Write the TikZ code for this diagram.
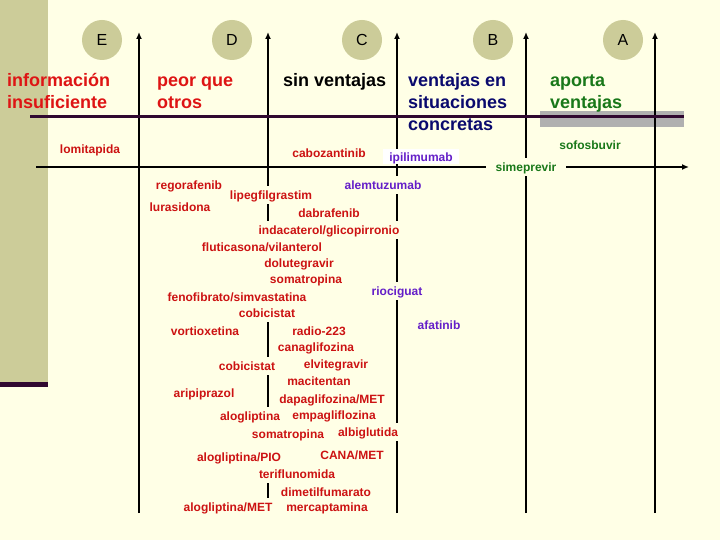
\documentclass[tikz,border=0pt]{standalone}
\usepackage{fontspec}
\setmainfont{Liberation Sans}
\usetikzlibrary{arrows.meta}
\definecolor{bgc}{RGB}{255,255,230}
\definecolor{khaki}{RGB}{204,204,153}
\definecolor{darkplum}{RGB}{48,8,48}
\definecolor{hlgray}{RGB}{176,176,176}
\definecolor{drugred}{RGB}{204,18,18}
\definecolor{headred}{RGB}{222,20,20}
\definecolor{navyc}{RGB}{10,10,110}
\definecolor{greenc}{RGB}{25,120,25}
\definecolor{purplec}{RGB}{100,30,200}
\tikzset{
  axisline/.style={line width=2.5pt, draw=black, -{Latex[length=7pt,width=6pt]}},
  letterdot/.style={circle, fill=khaki, minimum size=40pt, inner sep=0pt, font=\fontsize{16}{19}\selectfont, text=black},
  heading/.style={anchor=base west, align=left, inner sep=0pt, font=\bfseries\fontsize{18}{22}\selectfont},
  drug/.style={fill=bgc, inner xsep=5pt, inner ysep=3pt, text height=10.5pt, text depth=1.5pt, font=\bfseries\fontsize{12}{14}\selectfont, text=drugred},
  drugp/.style={drug, text=purplec},
  drugg/.style={drug, text=greenc},
}
\begin{document}
\begin{tikzpicture}[x=1pt,y=-1pt]
\useasboundingbox (0,0) rectangle (720,540);
\fill[bgc] (0,0) rectangle (720,540);
% left strip
\fill[khaki] (0,0) rectangle (48,382);
\fill[darkplum] (0,382) rectangle (48,387);
% grey highlight
\fill[hlgray] (540,111) rectangle (684,127);
% axes
\foreach \n/\x in {E/139,D/268,C/397,B/526,A/655}{
  \coordinate (bot\n) at (\x,513);
  \coordinate (top\n) at (\x,32);
}
\draw[axisline] (botE) -- (topE);
\draw[axisline] (botD) -- (topD);
\draw[axisline] (botC) -- (topC);
\draw[axisline] (botB) -- (topB);
\draw[axisline] (botA) -- (topA);
\coordinate (h1a) at (30,117);
\coordinate (h1b) at (684,117);
\draw[line width=3pt, darkplum] (h1a) -- (h1b);
\coordinate (h2a) at (36,167);
\coordinate (h2b) at (689,167);
\draw[axisline] (h2a) -- (h2b);
% letters
\node[letterdot] (cE) at (102,40) {E};
\node[letterdot] (cD) at (232,40) {D};
\node[letterdot] (cC) at (362,40) {C};
\node[letterdot] (cB) at (493,40) {B};
\node[letterdot] (cA) at (623,40) {A};
% headings (base = baseline of last line)
\node[heading, text=headred] (hE) at (7,109) {información\\insuficiente};
\node[heading, text=headred] (hD) at (157,109) {peor que\\otros};
\node[heading, text=black] (hC) at (283,87) {sin ventajas};
\node[heading, text=navyc] (hB) at (408,131) {ventajas en\\situaciones\\concretas};
\node[heading, text=greenc] (hA) at (550,109) {aporta\\ventajas};
% drugs
\node[drug] (d1) at (90,149) {lomitapida};
\node[drug] (d2) at (329,153) {cabozantinib};
\node[drugp, fill=white, inner xsep=6pt, inner ysep=1.5pt] (d3) at (421,157) {ipilimumab};
\node[drugg] (d4) at (590,145) {sofosbuvir};
\node[drugg, inner xsep=10pt] (d5) at (526,167) {simeprevir};
\node[drug] (d6) at (189,185) {regorafenib};
\node[drugp] (d7) at (383,185) {alemtuzumab};
\node[drug] (d8) at (271,195) {lipegfilgrastim};
\node[drug] (d9) at (180,207) {lurasidona};
\node[drug] (d10) at (329,213) {dabrafenib};
\node[drug] (d11) at (329,230) {indacaterol/glicopirronio};
\node[drug] (d12) at (262,247) {fluticasona/vilanterol};
\node[drug] (d13) at (299,263) {dolutegravir};
\node[drug] (d14) at (306,279) {somatropina};
\node[drugp] (d15) at (397,291) {riociguat};
\node[drug] (d16) at (237,297) {fenofibrato/simvastatina};
\node[drug] (d17) at (267,313) {cobicistat};
\node[drugp] (d18) at (439,325) {afatinib};
\node[drug] (d19) at (205,331) {vortioxetina};
\node[drug] (d20) at (319,331) {radio-223};
\node[drug] (d21) at (316,347) {canaglifozina};
\node[drug] (d22) at (247,366) {cobicistat};
\node[drug] (d23) at (336,364) {elvitegravir};
\node[drug] (d24) at (319,381) {macitentan};
\node[drug] (d25) at (204,393) {aripiprazol};
\node[drug] (d26) at (332,399) {dapaglifozina/MET};
\node[drug] (d27) at (250,416) {alogliptina};
\node[drug] (d28) at (334,415) {empagliflozina};
\node[drug] (d29) at (288,434) {somatropina};
\node[drug] (d30) at (368,432) {albiglutida};
\node[drug, inner ysep=8pt] (d31) at (239,457) {alogliptina/PIO};
\node[drug] (d32) at (352,455) {CANA/MET};
\node[drug] (d33) at (297,474) {teriflunomida};
\node[drug] (d34) at (326,492) {dimetilfumarato};
\node[drug] (d35) at (228,507) {alogliptina/MET};
\node[drug] (d36) at (327,507) {mercaptamina};
\end{tikzpicture}
\end{document}
